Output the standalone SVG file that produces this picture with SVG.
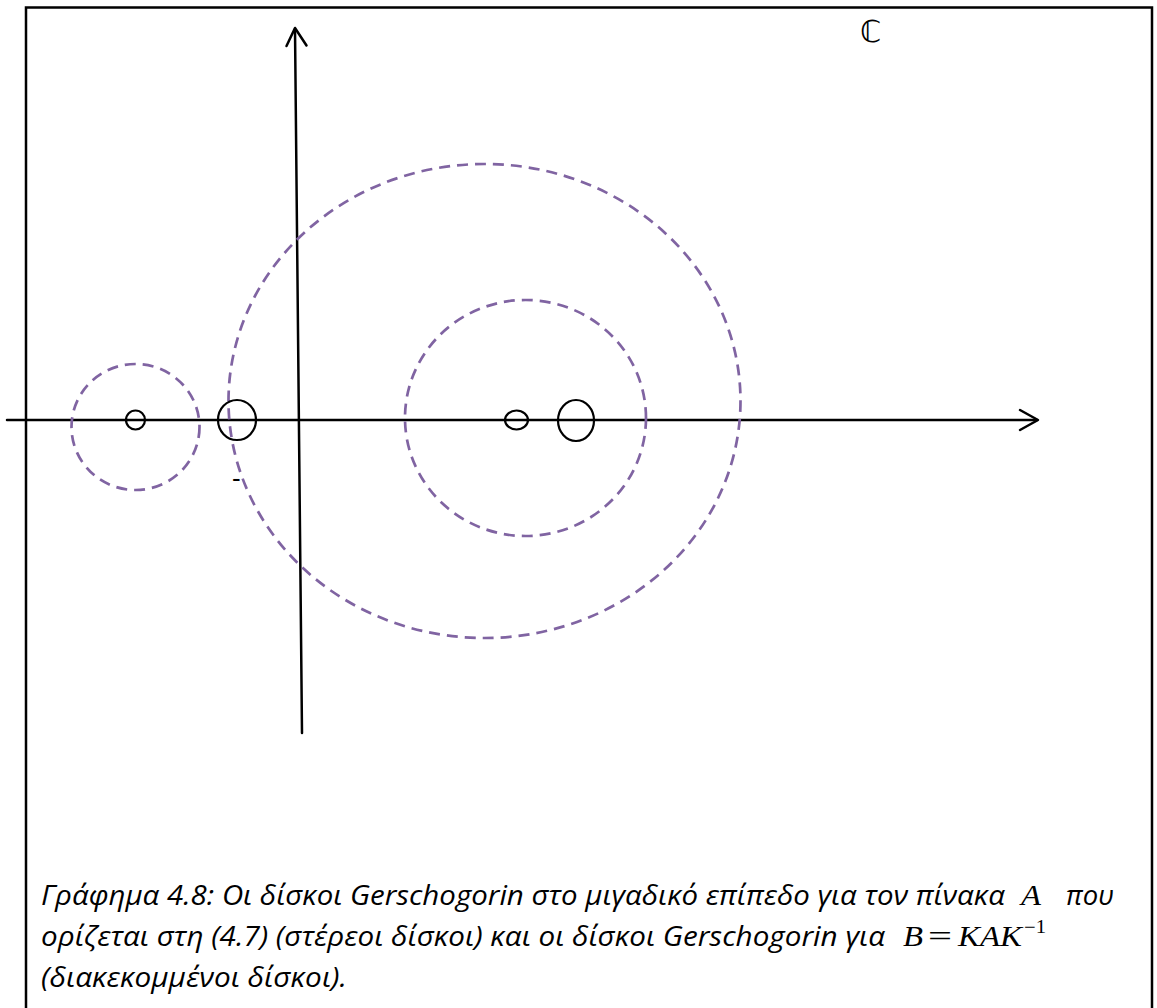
<svg xmlns="http://www.w3.org/2000/svg" width="1157" height="1008" viewBox="0 0 1157 1008">
<defs>
<style>
.frame{fill:none;stroke:#000;stroke-width:2.5}
.axis{fill:none;stroke:#000;stroke-width:2.5;stroke-linecap:round;stroke-linejoin:round}
.solid{fill:none;stroke:#000;stroke-width:2.2}
.dash{fill:none;stroke:#8064A2;stroke-width:2.7;stroke-dasharray:11 7}
.cap{font-family:"Open Sans","Noto Sans","DejaVu Sans",sans-serif;font-style:italic;font-size:27px;fill:#000}
.m{font-family:"Liberation Serif","Times New Roman",serif;font-style:italic;font-size:29px;fill:#000}
.mu{font-family:"Liberation Serif","Times New Roman",serif;font-size:29px;fill:#000}
.sup{font-family:"Liberation Serif","Times New Roman",serif;font-size:18px;fill:#000}
</style>
</defs>
<rect width="1157" height="1008" fill="#fff"/>
<path class="frame" d="M26,1010 V7.5 H1152 V1010"/>
<text x="860" y="42" style="font-family:'DejaVu Sans',sans-serif;font-size:30px;fill:#000">ℂ</text>
<g id="connectors">
<line class="axis" x1="7" y1="420" x2="1037" y2="420"/>
<polyline class="axis" points="1020,410 1038,420 1020,430"/>
<line class="axis" x1="302" y1="733" x2="295" y2="29"/>
<polyline class="axis" points="286.5,46 295,28 306.5,45.5"/>
</g>
<g id="disk-dashed-left"><ellipse class="dash" cx="135.5" cy="427" rx="64" ry="63"/></g>
<g id="disk-dashed-big"><ellipse class="dash" cx="484.5" cy="401" rx="256" ry="237"/></g>
<g id="disk-dashed-inner"><ellipse class="dash" cx="525.5" cy="418" rx="120.5" ry="118"/></g>
<g id="disk-solid-1"><circle class="solid" cx="135.5" cy="420" r="9.5"/></g>
<g id="disk-solid-2"><ellipse class="solid" cx="237" cy="420" rx="19" ry="20"/></g>
<g id="disk-solid-3"><ellipse class="solid" cx="516.5" cy="420" rx="11.5" ry="9.5"/></g>
<g id="disk-solid-4"><ellipse class="solid" cx="576" cy="420.5" rx="18" ry="20.5"/></g>
<text x="232" y="487" style="font-family:'Liberation Sans',sans-serif;font-size:26px;fill:#000">-</text>
<g id="caption">
<text class="cap" x="41" y="905" textLength="964" lengthAdjust="spacingAndGlyphs">Γράφημα 4.8:  Οι δίσκοι Gerschogorin στο μιγαδικό επίπεδο για τον πίνακα</text>
<text class="m" x="1021" y="905" textLength="20" lengthAdjust="spacingAndGlyphs">A</text>
<text class="cap" x="1066" y="905" textLength="48" lengthAdjust="spacingAndGlyphs">που</text>
<text class="cap" x="41" y="946" textLength="844" lengthAdjust="spacingAndGlyphs">ορίζεται στη (4.7) (στέρεοι δίσκοι) και οι δίσκοι Gerschogorin  για</text>
<text class="m" x="903" y="946" textLength="20" lengthAdjust="spacingAndGlyphs">B</text>
<text class="mu" x="928" y="946" textLength="24" lengthAdjust="spacingAndGlyphs">=</text>
<text class="m" x="958" y="946" textLength="64" lengthAdjust="spacingAndGlyphs">KAK</text>
<text class="sup" x="1024" y="933" textLength="22" lengthAdjust="spacingAndGlyphs">−1</text>
<text class="cap" x="41" y="987" textLength="306" lengthAdjust="spacingAndGlyphs">(διακεκομμένοι δίσκοι).</text>
</g>
</svg>
